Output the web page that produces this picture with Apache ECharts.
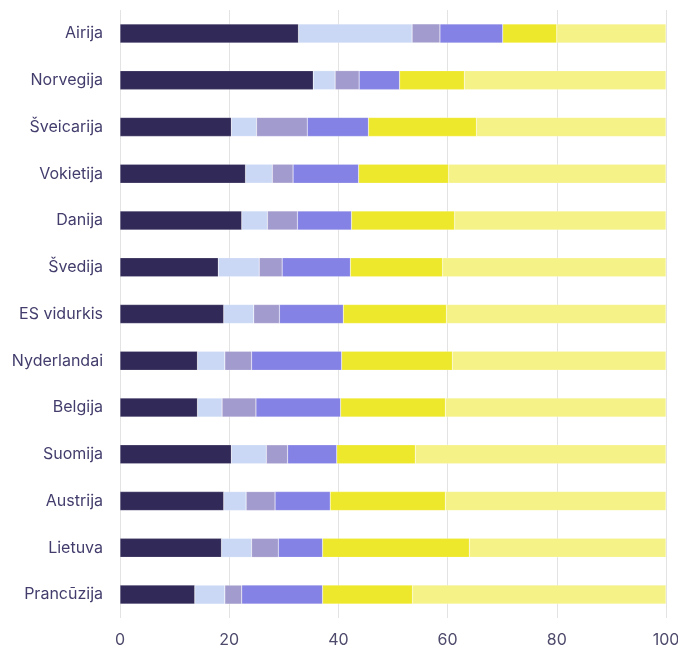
<!DOCTYPE html>
<html><head><meta charset="utf-8">
<script src="https://cdn.jsdelivr.net/npm/echarts@6/dist/echarts.min.js"></script>
<style>html,body{margin:0;padding:0;background:#fff}#c{width:678px;height:652px}</style>
</head><body><div id="c"></div>
<script>
const categories = ["Airija","Norvegija","Šveicarija","Vokietija","Danija","Švedija","ES vidurkis","Nyderlandai","Belgija","Suomija","Austrija","Lietuva","Prancūzija"];
const s1 = [32.7,35.4,20.4,23.0,22.3,18.0,19.0,14.2,14.2,20.4,19.0,18.6,13.7];
const s2 = [20.8,4.0,4.6,4.9,4.7,7.5,5.5,5.0,4.5,6.4,4.1,5.5,5.5];
const s3 = [5.1,4.4,9.3,3.8,5.5,4.2,4.7,4.9,6.2,3.9,5.3,4.9,3.1];
const s4 = [11.5,7.4,11.2,12.0,9.9,12.5,11.7,16.5,15.5,9.0,10.1,8.1,14.8];
const s5 = [9.9,11.9,19.8,16.5,18.9,16.9,18.9,20.3,19.2,14.4,21.1,26.9,16.5];
const s6 = [20.0,36.9,34.7,39.8,38.7,40.9,40.2,39.1,40.4,45.9,40.4,36.0,46.4];
const xTicks = [0,20,40,60,80,100];

const colors = ["#312a58","#cad8f5","#a29bce","#8482e4","#eee82c","#f5f287"];
const all = [s1,s2,s3,s4,s5,s6];
const chart = echarts.init(document.getElementById('c'));
chart.setOption({
  animation:false,
  grid:{left:120,right:12,top:10,bottom:34,containLabel:false,outerBoundsMode:'none'},
  xAxis:{type:'value',min:xTicks[0],max:xTicks[xTicks.length-1],interval:20,
    axisLine:{show:false},axisTick:{show:false},
    splitLine:{lineStyle:{color:'#e3e3e3',width:1}},
    axisLabel:{color:'#4d4a6b',fontSize:16,fontFamily:'Inter',margin:14}},
  yAxis:{type:'category',data:categories,inverse:true,
    axisLine:{show:false},axisTick:{show:false},
    axisLabel:{color:'#423d6c',fontSize:16,fontFamily:'Inter',margin:17}},
  series: all.map((d,i)=>({type:'bar',stack:'t',data:d,barWidth:19,
    itemStyle:{color:colors[i],borderColor:'rgba(255,255,255,0.4)',borderWidth:0.5},
    emphasis:{disabled:true}}))
});
</script></body></html>
